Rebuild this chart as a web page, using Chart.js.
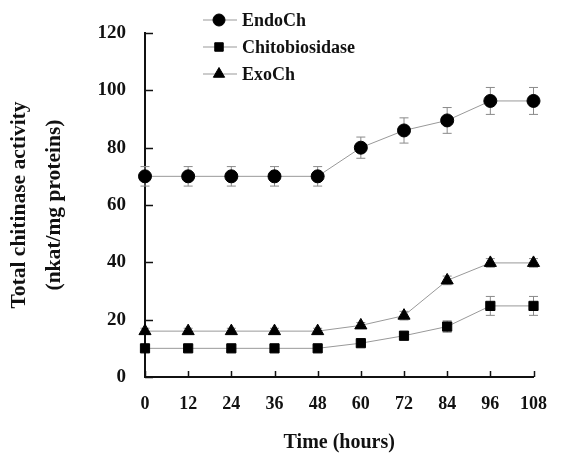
<!DOCTYPE html>
<html lang="en">
<head>
    <meta charset="UTF-8">
    <title>Total chitinase activity</title>
    <script src="https://cdn.jsdelivr.net/npm/chart.js"></script>
    <style>
        html, body { margin: 0; padding: 0; background: #fff; }
        .wrap { width: 564px; height: 453px; position: relative; }
    </style>
</head>
<body>
    <div class="wrap">
        <canvas id="activityChart" width="564" height="453"></canvas>
    </div>

    <script>
        // Data
        var hours = [0, 12, 24, 36, 48, 60, 72, 84, 96, 108];
        var yTicks = [0, 20, 40, 60, 80, 100, 120];

        var endoCh = [70, 70, 70, 70, 70, 80, 86, 89.5, 96.3, 96.3];
        var endoErr = [3.4, 3.4, 3.4, 3.4, 3.4, 3.7, 4.4, 4.5, 4.7, 4.7];

        var chitobiosidase = [10, 10, 10, 10, 10, 11.8, 14.4, 17.6, 24.8, 24.8];
        var chitoErr = [1, 1, 1, 1, 1, 1, 1.5, 2, 3.3, 3.3];

        var exoCh = [16, 16, 16, 16, 16, 18, 21.4, 33.7, 39.8, 39.8];
        var exoErr = [1, 1, 1, 1, 1, 1, 1.5, 1.5, 1.5, 1.5];

        var seriesNames = ['EndoCh', 'Chitobiosidase', 'ExoCh'];

        var serif = "'Liberation Serif', 'Times New Roman', serif";

        function toPoints(values) {
            return values.map(function (v, i) { return { x: hours[i], y: v }; });
        }

        function makeSet(name, values, errs, style, radius) {
            return {
                label: name,
                data: toPoints(values),
                errors: errs,
                borderColor: '#999',
                borderWidth: 1,
                pointStyle: style,
                pointRadius: radius,
                pointBackgroundColor: '#000',
                pointBorderColor: '#000',
                pointBorderWidth: 1,
                tension: 0,
                clip: false
            };
        }

        // error bars, drawn under the markers
        var errorBars = {
            id: 'errorBars',
            beforeDatasetsDraw: function (chart) {
                var ctx = chart.ctx;
                var xs = chart.scales.x, ys = chart.scales.y;
                ctx.save();
                ctx.strokeStyle = '#8a8a8a';
                ctx.lineWidth = 1;
                chart.data.datasets.forEach(function (ds) {
                    ds.data.forEach(function (p, i) {
                        var e = ds.errors[i];
                        var px = xs.getPixelForValue(p.x);
                        var top = ys.getPixelForValue(p.y + e);
                        var bot = ys.getPixelForValue(p.y - e);
                        ctx.beginPath();
                        ctx.moveTo(px, top); ctx.lineTo(px, bot);
                        ctx.moveTo(px - 4.5, top); ctx.lineTo(px + 4.5, top);
                        ctx.moveTo(px - 4.5, bot); ctx.lineTo(px + 4.5, bot);
                        ctx.stroke();
                    });
                });
                ctx.restore();
            }
        };

        // tick marks pointing into the plot, like the original
        var innerTicks = {
            id: 'innerTicks',
            afterDraw: function (chart) {
                var ctx = chart.ctx;
                var xs = chart.scales.x, ys = chart.scales.y;
                var area = chart.chartArea;
                ctx.save();
                ctx.strokeStyle = '#111';
                ctx.lineWidth = 1.5;
                ctx.beginPath();
                xs.ticks.forEach(function (t) {
                    var px = Math.round(xs.getPixelForValue(t.value)) + 0.5;
                    ctx.moveTo(px, area.bottom);
                    ctx.lineTo(px, area.bottom - 6);
                });
                ys.ticks.forEach(function (t) {
                    var py = Math.round(ys.getPixelForValue(t.value)) + 0.5;
                    ctx.moveTo(area.left, py);
                    ctx.lineTo(area.left + 8, py);
                });
                ctx.stroke();
                ctx.restore();
            }
        };

        // legend: short grey line with the marker in the middle
        var lineLegend = {
            id: 'lineLegend',
            afterDraw: function (chart) {
                var ctx = chart.ctx;
                var rows = [20, 47, 74];
                ctx.save();
                ctx.font = 'bold 18px ' + serif;
                ctx.textBaseline = 'middle';
                ctx.textAlign = 'left';
                chart.data.datasets.forEach(function (ds, i) {
                    var y = rows[i];
                    ctx.strokeStyle = '#999';
                    ctx.lineWidth = 1;
                    ctx.beginPath();
                    ctx.moveTo(203, y); ctx.lineTo(237, y);
                    ctx.stroke();
                    ctx.fillStyle = '#000';
                    ctx.strokeStyle = '#000';
                    ctx.lineWidth = 1;
                    Chart.helpers.drawPoint(ctx, {
                        pointStyle: ds.pointStyle,
                        radius: ds.pointRadius - 0.5,
                        rotation: 0,
                        borderWidth: 1
                    }, 219, y);
                    ctx.fillStyle = '#111';
                    ctx.fillText(ds.label, 242, y + 1);
                });
                ctx.restore();
            }
        };

        var ctx = document.getElementById('activityChart').getContext('2d');
        var activityChart = new Chart(ctx, {
            type: 'line',
            data: {
                datasets: [
                    makeSet(seriesNames[0], endoCh, endoErr, 'circle', 6.5),
                    makeSet(seriesNames[1], chitobiosidase, chitoErr, 'rect', 6.5),
                    makeSet(seriesNames[2], exoCh, exoErr, 'triangle', 7)
                ]
            },
            options: {
                responsive: false,
                animation: false,
                layout: { padding: { top: 33, right: 16, left: 0, bottom: 0 } },
                plugins: {
                    legend: { display: false },
                    tooltip: { enabled: false }
                },
                scales: {
                    x: {
                        type: 'linear',
                        min: 0,
                        max: 108,
                        afterBuildTicks: function (scale) {
                            scale.ticks = hours.map(function (h) { return { value: h }; });
                        },
                        afterFit: function (scale) { scale.height = 76; },
                        grid: { drawOnChartArea: false, drawTicks: false },
                        border: { display: true, color: '#111', width: 2 },
                        ticks: {
                            padding: 17,
                            color: '#111',
                            font: { family: serif, size: 18, weight: 'bold' }
                        },
                        title: {
                            display: true,
                            text: 'Time (hours)',
                            color: '#111',
                            padding: { top: 0, bottom: 0 },
                            font: { family: serif, size: 20, weight: 'bold', lineHeight: 1.0 }
                        }
                    },
                    y: {
                        min: 0,
                        max: 120,
                        afterBuildTicks: function (scale) {
                            scale.ticks = yTicks.map(function (v) { return { value: v }; });
                        },
                        afterFit: function (scale) { scale.width = 145; },
                        grid: { drawOnChartArea: false, drawTicks: false },
                        border: { display: true, color: '#111', width: 2 },
                        ticks: {
                            padding: 19,
                            color: '#111',
                            font: { family: serif, size: 19, weight: 'bold' }
                        },
                        title: {
                            display: true,
                            text: ['Total chitinase activity', '(nkat/mg proteins)'],
                            color: '#111',
                            padding: { top: 2, bottom: 0 },
                            font: { family: serif, size: 21.5, weight: 'bold', lineHeight: 1.62 }
                        }
                    }
                }
            },
            plugins: [errorBars, innerTicks, lineLegend]
        });
    </script>
</body>
</html>
